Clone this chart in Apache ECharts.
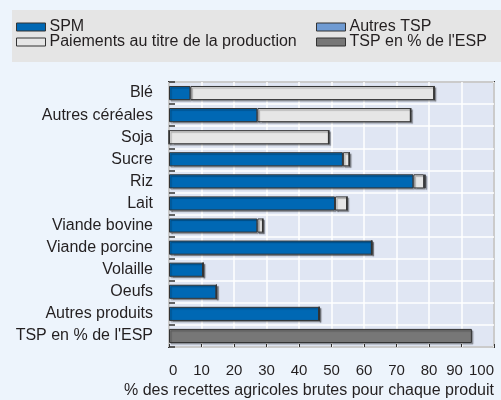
<!DOCTYPE html>
<html><head><meta charset="utf-8">
<script src="https://cdn.jsdelivr.net/npm/echarts@6/dist/echarts.min.js"></script>
<style>html,body{margin:0;padding:0;background:#edf4fc;}#c{width:501px;height:400px;}</style>
</head><body><div id="c"></div>
<script>
const categories = ["Blé","Autres céréales","Soja","Sucre","Riz","Lait","Viande bovine","Viande porcine","Volaille","Oeufs","Autres produits","TSP en % de l'ESP"];
const spm =        [6.6, 27.2, 0,   53.5, 75.2, 51.1, 27.2, 62.4, 10.5, 14.6, 46.2, '-'];
const paiements =  [75.0, 47.2, 49.2, 2.0, 3.3, 3.7, 1.7, 0, 0, 0, 0, '-'];
const autresTsp =  [0, 0, 0, 0, 0.5, 0, 0, 0, 0, 0, 0, '-'];
const tspPct =     ['-','-','-','-','-','-','-','-','-','-','-', 93.2];
const xTicks = [0,10,20,30,40,50,60,70,80,90,100];

const FONT = "'Liberation Sans','Roboto',sans-serif";
const FS = 16;
const TXT = '#231f20';
const chart = echarts.init(document.getElementById('c'));
const itemBorder = {borderColor:'#333', borderWidth:1, shadowColor:'rgba(0,0,0,0.3)', shadowOffsetX:1.5, shadowOffsetY:1.5, shadowBlur:1};
function mkLegend(name, left, top){
  return {data:[name], left:left, top:top, icon:'rect', itemWidth:29, itemHeight:8, itemGap:0, padding:0,
    textStyle:{fontFamily:FONT, fontSize:FS, color:TXT, padding:[0,0,0,-1]}, selectedMode:false,
    itemStyle:{borderColor:'#333', borderWidth:1, shadowBlur:0, shadowOffsetX:0, shadowOffsetY:0, shadowColor:'transparent'}};
}
chart.setOption({
  animation:false,
  backgroundColor:'#edf4fc',
  graphic:[{type:'rect', shape:{x:12,y:10,width:489,height:52}, style:{fill:'#e5e5e5'}, z:-1}],
  legend:[mkLegend('SPM',16,19), mkLegend('Autres TSP',316,19), mkLegend('Paiements au titre de la production',16,34), mkLegend("TSP en % de l'ESP",316,34)],
  title:{text:'% des recettes agricoles brutes pour chaque produit', right:7, top:383,
    textStyle:{fontFamily:FONT, fontSize:FS, fontWeight:'normal', color:TXT}, padding:0},
  grid:{left:169, right:7, top:82, bottom:53, show:true, backgroundColor:'#e0e6f3', borderColor:'#333', borderWidth:2},
  xAxis:{type:'value', min:0, max:100, interval:10,
    axisLine:{show:false}, axisTick:{show:true, inside:true, length:3, lineStyle:{color:'#333'}},
    splitLine:{show:true, lineStyle:{color:'#ffffff', width:1.5}},
    axisLabel:{fontFamily:FONT, fontSize:15, color:TXT, margin:16, alignMinLabel:'left', alignMaxLabel:'right',
      formatter:function(v){return v===90?'{s|90}':String(v);}, rich:{s:{fontFamily:FONT, fontSize:15, color:TXT, padding:[0,14,0,0]}}}},
  yAxis:{type:'category', data:categories, inverse:true,
    axisLine:{show:false}, axisTick:{show:true, inside:true, length:6, lineStyle:{color:'#333', width:1.5}},
    splitLine:{show:true, lineStyle:{color:'#ffffff', width:1.5}},
    axisLabel:{fontFamily:FONT, fontSize:FS, color:TXT, margin:16}},
  series:[
    {name:'SPM', type:'bar', stack:'a', data:spm, barWidth:'64%', itemStyle:Object.assign({color:'#0068b4'}, itemBorder)},
    {name:'Paiements au titre de la production', type:'bar', stack:'a', data:paiements, itemStyle:Object.assign({color:'#e6e6e6'}, itemBorder)},
    {name:'Autres TSP', type:'bar', stack:'a', data:autresTsp, itemStyle:Object.assign({color:'#6f9bd3'}, itemBorder)},
    {name:"TSP en % de l'ESP", type:'bar', stack:'a', data:tspPct, itemStyle:Object.assign({color:'#777777'}, itemBorder)}
  ]
});
</script></body></html>
